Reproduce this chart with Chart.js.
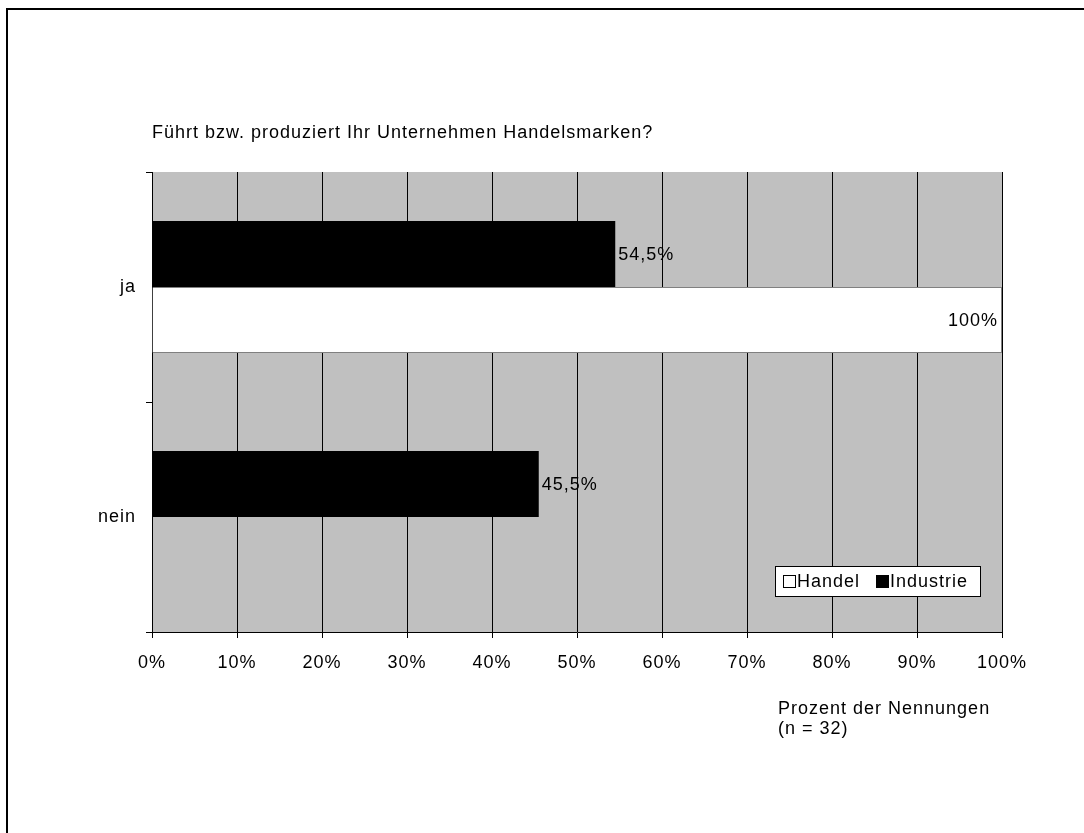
<!DOCTYPE html>
<html>
<head>
<meta charset="utf-8">
<script src="https://cdn.jsdelivr.net/npm/chart.js@4"></script>
<style>
    html, body { margin: 0; padding: 0; background: #fff; }
    #wrap { position: relative; width: 1084px; height: 833px; }
    #frame { position: absolute; left: 6px; top: 8px; right: 0; bottom: 0;
             border-top: 2px solid #000; border-left: 2px solid #000; pointer-events: none; }
    canvas { position: absolute; left: 0; top: 0; }
</style>
</head>
<body>
<div id="wrap">
    <canvas id="brands-canvas" width="1084" height="833"></canvas>
    <div id="frame"></div>
</div>
<script>
const categories = ['ja', 'nein'];
const industrieValues = [54.5, 45.5];
const handelValues = [100, 0];
const xTicks = [0, 10, 20, 30, 40, 50, 60, 70, 80, 90, 100];

const chartTitle = 'Führt bzw. produziert Ihr Unternehmen Handelsmarken?';
const axisTitle = ['Prozent der Nennungen', '(n = 32)'];

const FONT = '"Liberation Sans", Arial, sans-serif';
const FONT_SIZE = 18;

const fmtPct = (v) => String(v).replace('.', ',') + '%';

// the old office font runs a bit wide
const wideText = (chart) => { chart.ctx.letterSpacing = '1px'; };

// gray plot background, texts, value labels and the legend box
const decorations = {
    id: 'decorations',
    beforeLayout: wideText,
    beforeDraw(chart) {
        wideText(chart);
        const { ctx, chartArea: a } = chart;
        ctx.save();
        ctx.fillStyle = '#c0c0c0';
        ctx.fillRect(a.left, a.top, a.right - a.left, a.bottom - a.top);
        ctx.restore();
    },
    afterDraw(chart) {
        const { ctx } = chart;
        ctx.save();
        ctx.letterSpacing = '1px';
        ctx.fillStyle = '#000';
        ctx.font = FONT_SIZE + 'px ' + FONT;
        ctx.textBaseline = 'middle';
        ctx.textAlign = 'left';
        ctx.fillText(chartTitle, 152, 133);
        ctx.fillText(axisTitle[0], 778, 709);
        ctx.fillText(axisTitle[1], 778, 729);

        // value labels
        chart.data.datasets.forEach((ds, i) => {
            chart.getDatasetMeta(i).data.forEach((bar, j) => {
                const v = ds.data[j];
                if (!v) return;
                if (ds.label === 'Handel') {
                    ctx.textAlign = 'right';
                    ctx.fillText(fmtPct(v), bar.x - 4, bar.y + 1);
                } else {
                    ctx.textAlign = 'left';
                    ctx.fillText(fmtPct(v), bar.x + 3, bar.y + 1);
                }
            });
        });

        // legend
        const lx = 775, ly = 566, lw = 205, lh = 30;
        ctx.fillStyle = '#fff';
        ctx.fillRect(lx, ly, lw, lh);
        ctx.strokeStyle = '#000';
        ctx.lineWidth = 1;
        ctx.strokeRect(lx + 0.5, ly + 0.5, lw, lh);
        const cy = ly + lh / 2;
        ctx.textAlign = 'left';
        [['Handel', 783], ['Industrie', 876]].forEach(([name, x]) => {
            const ds = chart.data.datasets.find(d => d.label === name);
            ctx.fillStyle = ds.backgroundColor;
            ctx.fillRect(x, cy - 6, 13, 13);
            ctx.strokeStyle = '#000';
            ctx.strokeRect(x + 0.5, cy - 5.5, 12, 12);
            ctx.fillStyle = '#000';
            ctx.fillText(name, x + 14, cy + 1);
        });
        ctx.restore();
    }
};

new Chart(document.getElementById('brands-canvas'), {
    type: 'bar',
    data: {
        labels: categories,
        datasets: [{
            label: 'Industrie',
            data: industrieValues,
            backgroundColor: '#000000',
            borderColor: '#000000',
            borderWidth: 0
        }, {
            label: 'Handel',
            data: handelValues,
            backgroundColor: '#ffffff',
            borderColor: '#808080',
            borderWidth: 1
        }]
    },
    options: {
        indexAxis: 'y',
        responsive: false,
        animation: false,
        categoryPercentage: 0.574,
        barPercentage: 1,
        layout: {
            padding: { left: 0, top: 172, right: 82, bottom: 0 }
        },
        scales: {
            x: {
                min: 0,
                max: 100,
                afterBuildTicks: (scale) => { scale.ticks = xTicks.map(v => ({ value: v })); },
                afterFit: (scale) => { scale.height = 201; },
                ticks: {
                    callback: (v) => v + '%',
                    color: '#000',
                    font: { family: FONT, size: FONT_SIZE },
                    padding: 14,
                    maxRotation: 0
                },
                grid: { color: '#000', lineWidth: 1, tickLength: 6 },
                border: { color: '#000', width: 1 }
            },
            y: {
                afterFit: (scale) => { scale.width = 152; },
                ticks: {
                    color: '#000',
                    font: { family: FONT, size: FONT_SIZE },
                    padding: 10
                },
                grid: { drawOnChartArea: false, color: '#000', tickLength: 6 },
                border: { color: '#000', width: 1 }
            }
        },
        plugins: {
            legend: { display: false },
            title: { display: false },
            tooltip: { enabled: false }
        }
    },
    plugins: [decorations]
});
</script>
</body>
</html>
